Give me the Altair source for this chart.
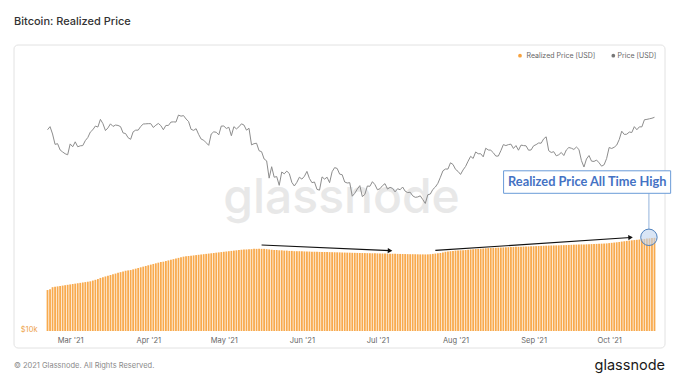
import altair as alt
import pandas as pd

# ---------------- data (USD thousands) -------------
price_feb = [56.0, 57.5, 54.0, 49.4, 49.7, 47.1, 46.3, 45.6, 45.2]
price_mar = [49.6, 48.4, 50.5, 48.4, 48.8, 48.9, 51.0, 52.4, 54.9, 56.0, 57.8, 57.3, 61.2, 59.0,
             55.6, 56.9, 58.9, 57.6, 58.3, 58.1, 57.5, 54.5, 54.2, 52.3, 51.6, 55.0, 55.8, 55.8,
             57.6, 58.8, 58.9]
price_apr = [59.0, 59.0, 57.1, 58.2, 59.1, 58.0, 56.0, 58.1, 58.1, 59.8, 59.9, 59.8, 63.5, 62.9,
             63.2, 61.4, 60.1, 56.2, 55.7, 56.5, 53.8, 51.7, 51.2, 50.1, 49.0, 54.0, 55.0, 54.8,
             53.6, 57.8]
price_may = [57.8, 56.6, 57.2, 53.2, 57.5, 56.4, 57.4, 58.9, 58.3, 55.8, 56.7, 49.2, 49.7, 49.9,
             46.8, 46.4, 43.6, 42.9, 37.0, 40.8, 37.3, 37.5, 34.8, 39.0, 38.4, 39.3, 38.5, 35.7,
             34.6, 35.7, 37.3]
price_jun = [36.7, 37.6, 39.2, 36.9, 35.6, 35.8, 33.6, 33.4, 37.4, 36.7, 37.3, 35.6, 39.1, 40.5,
             40.2, 38.3, 38.1, 35.8, 35.5, 35.6, 31.7, 32.5, 33.7, 34.7, 31.6, 32.2, 34.6, 34.5,
             35.9, 35.0]
price_jul = [33.5, 33.8, 34.7, 35.3, 33.7, 34.2, 33.9, 32.9, 33.8, 33.5, 34.3, 33.1, 32.7, 32.8,
             31.8, 31.4, 31.5, 31.8, 30.8, 29.8, 32.1, 32.3, 33.6, 34.3, 35.4, 37.3, 39.4, 40.0,
             40.0, 42.2, 41.6]
price_aug = [39.9, 39.2, 38.2, 39.7, 40.9, 42.8, 44.6, 43.8, 46.3, 45.6, 45.6, 44.4, 47.8, 47.1,
             47.0, 46.0, 44.7, 44.7, 46.8, 49.3, 48.9, 49.3, 49.5, 47.7, 48.9, 47.0, 49.1, 48.9,
             48.8, 47.0, 47.1]
price_sep = [48.8, 49.3, 50.0, 49.9, 51.8, 52.7, 46.8, 46.1, 46.4, 44.8, 45.2, 46.1, 44.9, 47.1,
             48.1, 47.8, 47.3, 48.3, 47.3, 43.0, 40.7, 43.6, 44.9, 42.8, 42.7, 43.2, 42.2, 41.0,
             41.5, 43.8]
price_oct = [48.1, 47.7, 48.2, 49.1, 51.5, 55.3, 53.8, 53.9, 54.9, 54.7, 57.5, 56.0, 57.4, 57.4,
             61.0, 61.2, 61.5, 61.8, 62.3]

real_feb = [14.2, 14.3, 14.55, 14.6, 14.65, 14.7, 14.75, 14.8, 14.85]
real_mar = [14.9, 14.95, 15.0, 15.05, 15.1, 15.15, 15.2, 15.25, 15.3, 15.4, 15.5, 15.6, 15.75,
            15.85, 15.95, 16.05, 16.15, 16.25, 16.35, 16.45, 16.55, 16.65, 16.75, 16.8, 16.85,
            16.95, 17.05, 17.15, 17.25, 17.35, 17.45]
real_apr = [17.55, 17.65, 17.75, 17.85, 17.95, 18.05, 18.1, 18.2, 18.3, 18.4, 18.5, 18.6, 18.7,
            18.8, 18.9, 18.95, 19.0, 19.05, 19.1, 19.15, 19.2, 19.25, 19.3, 19.35, 19.4, 19.45,
            19.5, 19.55, 19.6, 19.65]
real_may = [19.7, 19.75, 19.8, 19.85, 19.9, 19.95, 20.0, 20.05, 20.1, 20.1, 20.15, 20.15, 20.2,
            20.2, 20.2, 20.2, 20.2, 20.15, 20.1, 20.05, 20.0, 20.0, 19.95, 19.95, 19.9, 19.9,
            19.85, 19.85, 19.8, 19.8, 19.8]
real_jun = [19.78, 19.76, 19.75, 19.74, 19.72, 19.71, 19.7, 19.68, 19.67, 19.66, 19.65, 19.64,
            19.63, 19.62, 19.61, 19.6, 19.58, 19.57, 19.56, 19.55, 19.53, 19.52, 19.51, 19.5,
            19.49, 19.48, 19.47, 19.46, 19.45, 19.44]
real_jul = [19.43, 19.42, 19.41, 19.4, 19.39, 19.38, 19.37, 19.36, 19.35, 19.34, 19.33, 19.32,
            19.31, 19.3, 19.3, 19.29, 19.28, 19.27, 19.27, 19.26, 19.27, 19.3, 19.35, 19.4,
            19.45, 19.5, 19.6, 19.7, 19.75, 19.8, 19.85]
real_aug = [19.9, 19.93, 19.95, 19.98, 20.0, 20.05, 20.1, 20.13, 20.17, 20.2, 20.23, 20.26, 20.3,
            20.33, 20.35, 20.37, 20.39, 20.41, 20.43, 20.45, 20.47, 20.49, 20.51, 20.53, 20.55,
            20.56, 20.58, 20.6, 20.61, 20.62, 20.64]
real_sep = [20.66, 20.68, 20.7, 20.72, 20.74, 20.76, 20.78, 20.79, 20.8, 20.81, 20.82, 20.84,
            20.85, 20.87, 20.89, 20.91, 20.93, 20.95, 20.97, 20.98, 20.99, 21.0, 21.02, 21.04,
            21.06, 21.08, 21.1, 21.12, 21.14, 21.17]
real_oct = [21.22, 21.27, 21.32, 21.37, 21.42, 21.5, 21.56, 21.62, 21.68, 21.73, 21.78, 21.83,
            21.88, 21.93, 22.0, 22.05, 22.1, 22.15, 22.2]

month_ticks = [3, 4, 5, 6, 7, 8, 9, 10]

# annotation anchors (date, USD thousands)
arrow_start = ["2021-05-16T00:00:00", "2021-07-24T00:00:00"]
arrow_start_val = [20.88, 19.93]
arrow_end = ["2021-07-06T00:00:00", "2021-10-09T12:00:00"]
arrow_end_val = [19.89, 22.26]
arrow_angle = [2.5, 356.2]
ath_date = ["2021-10-16T19:00:00"]
ath_val = [22.3]
box_x = ["2021-08-20T02:00:00", "2021-10-25T10:00:00"]
box_y = [39.4, 32.5]
box_text_pos = ["2021-09-22T07:00:00", 35.8]
connector_y = [32.5, 23.9]

# ---------------- tables -------------
price = (price_feb + price_mar + price_apr + price_may + price_jun + price_jul + price_aug
         + price_sep + price_oct)
real = (real_feb + real_mar + real_apr + real_may + real_jun + real_jul + real_aug
        + real_sep + real_oct)
dates = pd.date_range("2021-02-20", periods=len(price), freq="D").strftime("%Y-%m-%dT00:00:00")
df = pd.DataFrame({"date": list(dates), "price": [p * 1000 for p in price],
                   "real": [r * 1000 for r in real]})

xscale = alt.Scale(domain=[alt.DateTime(year=2021, month=2, date=19),
                           alt.DateTime(year=2021, month=10, date=20)], padding=0)
yscale = alt.Scale(type="log", domain=[10000, 100000], padding=0)

ORANGE = "#f8aa4e"
FONT = "Inter"

xaxis = alt.Axis(values=[alt.DateTime(year=2021, month=m, date=1) for m in month_ticks],
                 format="%b '%y", labelFont=FONT, labelFontSize=7.5, labelColor="#666666",
                 labelPadding=5, domain=False, ticks=False, grid=False, title=None, zindex=2)
yaxis = alt.Axis(values=[10000], labelExpr="'$10k'", labelFont=FONT, labelFontSize=7.5,
                 labelColor="#eea34c", labelPadding=8, labelBaseline="alphabetic",
                 domain=False, ticks=False, grid=False, title=None, zindex=2)

one = pd.DataFrame({"k": [0]})

card = alt.Chart(one).mark_rect(fill="white", fillOpacity=0, stroke="#e2e2e2", strokeWidth=1,
                                cornerRadius=4).encode(
    x=alt.value(-31), x2=alt.value(620), y=alt.value(-17), y2=alt.value(286))

watermark = alt.Chart(one).mark_text(text="glassnode", font=FONT, fontSize=48,
                                     fontWeight=500, color="#e8e8e8", align="center",
                                     baseline="alphabetic").encode(
    x=alt.value(296.5), y=alt.value(151))


def X(field):
    return alt.X(field, scale=xscale, axis=xaxis)


def Y(field):
    return alt.Y(field, scale=yscale, axis=yaxis)


bars = alt.Chart(df).mark_bar(size=1.8, color=ORANGE).encode(
    x=X("date:T"), y=Y("real:Q"), y2=alt.datum(10000))

line = alt.Chart(df).mark_line(color="#8d8d8d", strokeWidth=1).encode(
    x=X("date:T"), y=Y("price:Q"))

arr_df = pd.DataFrame({"x": arrow_start, "y": [v * 1000 for v in arrow_start_val],
                       "x2": arrow_end, "y2": [v * 1000 for v in arrow_end_val],
                       "angle": arrow_angle})
arrows = alt.Chart(arr_df).mark_rule(color="#111111", strokeWidth=1.2).encode(
    x=X("x:T"), y=Y("y:Q"), x2="x2:T", y2="y2:Q")
heads = alt.Chart(arr_df).mark_point(shape="triangle-right", filled=True, color="#111111",
                                     size=28, opacity=1).encode(
    x=X("x2:T"), y=Y("y2:Q"), angle=alt.Angle("angle:Q", scale=None))

box_df = pd.DataFrame({"x": [box_x[0]], "x2": [box_x[1]], "y": [box_y[0] * 1000],
                       "y2": [box_y[1] * 1000]})
box = alt.Chart(box_df).mark_rect(fill="white", stroke="#6a9bd8", strokeWidth=1).encode(
    x=X("x:T"), x2="x2:T", y=Y("y:Q"), y2="y2:Q")
box_text = alt.Chart(pd.DataFrame({"x": [box_text_pos[0]], "y": [box_text_pos[1] * 1000],
                                   "t": ["Realized Price All Time High"]})).mark_text(
    font="Lato", fontSize=12.8, fontWeight="bold", color="#4472c4", align="center",
    baseline="middle").encode(x=X("x:T"), y=Y("y:Q"), text="t:N")

conn_df = pd.DataFrame({"x": ath_date, "y": [connector_y[0] * 1000],
                        "y2": [connector_y[1] * 1000]})
connector = alt.Chart(conn_df).mark_rule(color="#93b3dc", strokeWidth=1).encode(
    x=X("x:T"), y=Y("y:Q"), y2="y2:Q")

ath_df = pd.DataFrame({"x": ath_date, "y": [v * 1000 for v in ath_val]})
ath = alt.Chart(ath_df).mark_point(shape="circle", filled=True, size=270, fill="#bfd3ee",
                                   fillOpacity=0.6, stroke="#4f81bd", strokeWidth=1,
                                   opacity=1).encode(x=X("x:T"), y=Y("y:Q"))


def txt(t, x, y, size, color, align="left", baseline="middle", weight=400, font=FONT):
    return alt.Chart(pd.DataFrame({"t": [t]})).mark_text(
        font=font, fontSize=size, color=color, align=align, baseline=baseline,
        fontWeight=weight).encode(x=alt.value(x), y=alt.value(y), text="t:N")


def dot(x, y, color):
    return alt.Chart(one).mark_point(shape="circle", filled=True, size=14, color=color,
                                     opacity=1).encode(x=alt.value(x), y=alt.value(y))


title = txt("Bitcoin: Realized Price", -31, -40, 11, "#333333", weight=500)
leg1 = dot(475, -6.3, "#f7a23e")
leg1t = txt("Realized Price [USD]", 481.5, -6.3, 7, "#666666")
leg2 = dot(568.3, -6.3, "#777777")
leg2t = txt("Price [USD]", 572.5, -6.3, 7, "#666666")
footer = txt("\u00a9 2021 Glassnode. All Rights Reserved.", -31, 304, 7.5, "#8a8a8a")
logo = txt("glassnode", 620, 308, 14.5, "#1a1a1a", align="right", baseline="alphabetic",
           weight=400)

chart = alt.layer(card, watermark, bars, line, arrows, heads, connector, box, box_text, ath,
                  title, leg1, leg1t, leg2, leg2t, footer, logo).properties(
    width=612, height=269,
    autosize=alt.AutoSizeParams(type="none"),
    padding={"left": 37, "top": 54, "right": 15, "bottom": 50},
    background="white",
).configure_view(stroke=None)

chart.save("out.html", embed_options={"renderer": "svg", "actions": False})
